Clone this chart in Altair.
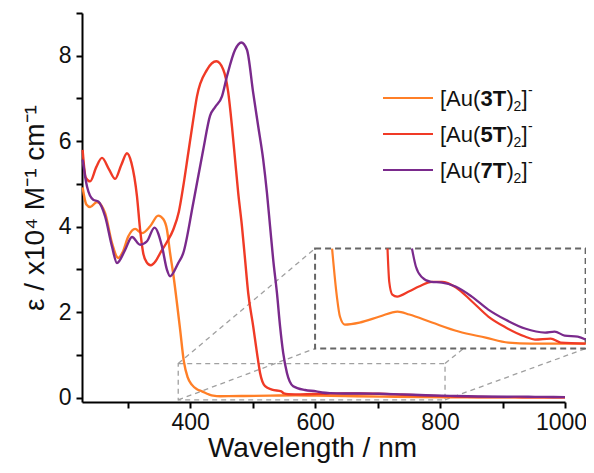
import altair as alt
import pandas as pd

FONT = "Liberation Sans"
SERIES = ["3T", "5T", "7T"]
COLORS = ["#FF7F27", "#F03A26", "#7A2A8C"]

# wavelength (nm) / epsilon (x10^4 M^-1 cm^-1)
wl_3T = [228, 234, 240, 251, 258, 264, 275, 285, 292, 301, 312, 323, 336, 349, 357,
         363, 368, 373, 379, 384, 390, 396, 403, 411, 419, 430, 437, 448, 482, 528,
         569, 596, 648, 709, 771, 823, 875, 1000]
eps_3T = [4.92, 4.52, 4.46, 4.58, 4.50, 4.32, 3.62, 3.27, 3.40, 3.77, 3.95, 3.85, 4.01, 4.26, 4.18,
          3.93, 3.38, 2.90, 2.21, 1.60, 0.85, 0.48, 0.30, 0.20, 0.15, 0.078, 0.048, 0.036, 0.039, 0.048,
          0.0555, 0.051, 0.039, 0.0255, 0.0165, 0.009, 0.0075, 0.0075]

wl_5T = [228, 233, 240, 250, 259, 270, 280, 290, 299, 306, 315, 320, 325, 330, 337,
         345, 352, 362, 373, 382, 389, 397, 405, 411, 427, 442, 453, 461, 467, 472,
         477, 483, 488, 493, 501, 507, 512, 520, 531, 546, 550, 557, 568, 596, 618,
         648, 671, 702, 739, 777, 816, 861, 884, 920, 943, 1000]
eps_5T = [5.80, 5.15, 5.06, 5.40, 5.61, 5.35, 5.12, 5.45, 5.72, 5.50, 4.71, 3.93, 3.38, 3.18, 3.10,
          3.20, 3.38, 3.62, 3.93, 4.35, 4.94, 5.72, 6.50, 7.05, 7.67, 7.87, 7.68, 7.15, 6.35, 5.57,
          4.79, 4.01, 3.23, 2.45, 1.67, 1.05, 0.58, 0.27, 0.19, 0.15, 0.10, 0.081, 0.078, 0.086, 0.093,
          0.10, 0.10, 0.092, 0.071, 0.048, 0.032, 0.018, 0.0135, 0.015, 0.009, 0.0075]

wl_7T = [228, 235, 245, 253, 264, 275, 283, 296, 307, 320, 331, 343, 355, 363, 368,
         381, 389, 405, 421, 432, 440, 451, 459, 472, 482, 491, 501, 509, 517, 523,
         528, 533, 539, 544, 549, 555, 565, 584, 602, 611, 625, 646, 671, 702, 739,
         777, 816, 861, 907, 929, 952, 982, 1000]
eps_7T = [5.57, 4.94, 4.63, 4.59, 4.24, 3.54, 3.15, 3.46, 3.76, 3.58, 3.66, 3.98, 3.54, 2.99, 2.84,
          3.15, 3.38, 4.55, 5.80, 6.60, 6.80, 7.05, 7.52, 8.14, 8.31, 8.14, 7.13, 6.35, 5.57, 4.79,
          4.01, 3.23, 2.45, 1.67, 1.05, 0.58, 0.27, 0.18, 0.15, 0.123, 0.107, 0.10, 0.099, 0.093, 0.078,
          0.0585, 0.0435, 0.030, 0.024, 0.0255, 0.0195, 0.018, 0.0135]

X_DOMAIN = [227, 1000]
Y_DOMAIN = [-0.1, 9.0]
X_TICKS = list(range(300, 1001, 100))
Y_TICKS = list(range(0, 10))

# zoomed region (small box) and inset frame, in data units
ZOOM = dict(x=381, x2=808, y=-0.05, y2=0.8)
INSET = dict(x=600, x2=1033, y=1.15, y2=3.49)
INSET_X = [380, 1000]
INSET_Y = [0.0, 0.15]

rows = []
for s, wl, eps in zip(SERIES, [wl_3T, wl_5T, wl_7T], [eps_3T, eps_5T, eps_7T]):
    for w, e in zip(wl, eps):
        rows.append({"series": s, "wl": w, "eps": e})
df = pd.DataFrame(rows)

xs = alt.Scale(domain=X_DOMAIN, nice=False, zero=False)
ys = alt.Scale(domain=Y_DOMAIN, nice=False, zero=False)
color = alt.Color("series:N", scale=alt.Scale(domain=SERIES, range=COLORS), legend=None)

xaxis = alt.Axis(values=X_TICKS, format="d",
                 labelExpr="datum.value % 200 == 0 ? datum.label : ''",
                 labelOffset={"condition": {"test": "datum.value == 1000", "value": -4}, "value": 0},
                 title="Wavelength / nm", titleFontSize=28, titleFontWeight="normal",
                 labelFontSize=23, tickSize=6, tickWidth=2, domainWidth=2,
                 domainColor="black", tickColor="black", labelColor="#111", titleColor="#111",
                 labelPadding=3, titlePadding=0, grid=False, labelFlush=False,
                 labelOverlap=False, titleX=230)
yaxis = alt.Axis(values=Y_TICKS,
                 labelExpr="datum.value % 2 == 0 ? datum.label : ''",
                 title="ε / x10⁴ M⁻¹ cm⁻¹", titleFontSize=28, titleFontWeight="normal",
                 labelFontSize=23, tickSize=6, tickWidth=2, domainWidth=2,
                 domainColor="black", tickColor="black", labelColor="#111", titleColor="#111",
                 labelPadding=5, titlePadding=9, grid=False, labelOverlap=False)

def X(field):
    return alt.X(field, scale=xs, axis=xaxis, title="Wavelength / nm")

def Y(field):
    return alt.Y(field, scale=ys, axis=yaxis, title="ε / x10⁴ M⁻¹ cm⁻¹")

main = alt.Chart(df).mark_line(strokeWidth=2.4, interpolate="monotone").encode(
    x=X("wl:Q"), y=Y("eps:Q"), color=color,
)

ax = (INSET["x2"] - INSET["x"]) / (INSET_X[1] - INSET_X[0])
ay = (INSET["y2"] - INSET["y"]) / (INSET_Y[1] - INSET_Y[0])
inset = alt.Chart(df).transform_filter(
    f"datum.wl >= {INSET_X[0]} && datum.eps <= {INSET_Y[1]} + 1e-6"
).transform_calculate(
    ix=f"{INSET['x']} + (datum.wl - {INSET_X[0]}) * {ax}",
    iy=f"{INSET['y']} + (datum.eps - {INSET_Y[0]}) * {ay}",
).mark_line(strokeWidth=2.2, interpolate="monotone").encode(
    x=X("ix:Q"), y=Y("iy:Q"), color=color,
)

zoom_df = pd.DataFrame([ZOOM])
inset_df = pd.DataFrame([INSET])
conn_df = pd.DataFrame([
    {"x": ZOOM["x"], "y": ZOOM["y2"], "x2": INSET["x"], "y2": INSET["y2"]},
    {"x": ZOOM["x"], "y": ZOOM["y"], "x2": INSET["x"], "y2": INSET["y"]},
    {"x": ZOOM["x2"], "y": ZOOM["y2"], "x2": INSET["x2"], "y2": INSET["y2"]},
    {"x": ZOOM["x2"], "y": ZOOM["y"], "x2": INSET["x2"], "y2": INSET["y"]},
])

def box_enc(ch):
    return ch.encode(x=X("x:Q"), x2="x2:Q", y=Y("y:Q"), y2="y2:Q")

small_box = box_enc(alt.Chart(zoom_df).mark_rect(
    fillOpacity=0, stroke="#a0a0a0", strokeDash=[5, 4], strokeWidth=1.3))
connectors = box_enc(alt.Chart(conn_df).mark_rule(
    color="#a0a0a0", strokeDash=[5, 4], strokeWidth=1.3))
big_box = box_enc(alt.Chart(inset_df).mark_rect(
    fill="white", stroke="#666666", strokeDash=[6, 4], strokeWidth=2))

# legend
leg_df = pd.DataFrame({"series": SERIES, "idx": [0, 1, 2]})
leg = alt.Chart(leg_df).transform_calculate(ly="85 + 36 * datum.idx")
ly = alt.Y("ly:Q", scale=None)
leg_lines = leg.mark_rule(strokeWidth=2.2).encode(
    x=alt.value(301), x2=alt.value(351), y=ly, color=color)

def leg_text(x, text, size=22, weight="normal", dy=8):
    return leg.mark_text(align="left", baseline="alphabetic", fontSize=size,
                         fontWeight=weight, dy=dy, color="#111", font=FONT).encode(
        x=alt.value(x), y=ly, text=text)

t1 = leg_text(358, alt.value("[Au("))
t2 = leg_text(398.5, alt.Text("series:N"), weight="bold")
t3 = leg_text(424.5, alt.value(")"))
t4 = leg_text(431.5, alt.value("2"), size=14, dy=13)
t5 = leg_text(439.5, alt.value("]"))
t6 = leg_text(446, alt.value("-"), size=14, dy=-3)

chart = alt.layer(
    small_box, connectors, big_box, main, inset, leg_lines, t1, t2, t3, t4, t5, t6
).properties(
    width=483, height=389,
    autosize=alt.AutoSizeParams(type="none"),
    padding={"left": 74, "top": 5, "right": 21, "bottom": 63},
).configure(font=FONT).configure_view(stroke=None)

chart.save("out.html", embed_options={"renderer": "svg", "actions": False})
